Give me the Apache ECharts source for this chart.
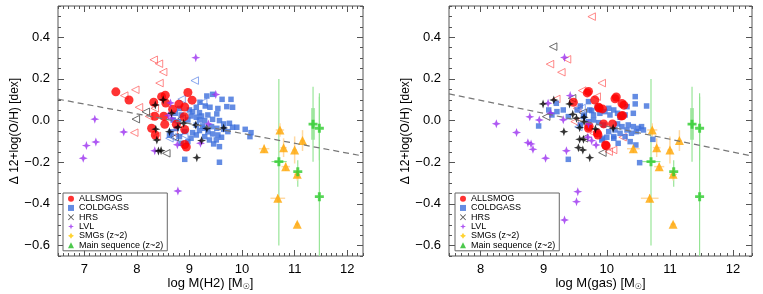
<!DOCTYPE html>
<html>
<head>
<meta charset="utf-8">
<script src="https://cdn.jsdelivr.net/npm/echarts@6/dist/echarts.min.js"></script>
<style>
html,body{margin:0;padding:0;background:#fff;}
#chart{width:763px;height:294px;}
</style>
</head>
<body>
<div id="chart"></div>
<script>
// ---------------- axis settings / tick labels ----------------
const xRangeH2 = [6.5, 12.3];
const xRangeGas = [7.5, 12.3];
const yRange = [-0.65, 0.55];
const xTicksH2 = [7, 8, 9, 10, 11, 12];
const xTicksGas = [8, 9, 10, 11, 12];
const yTicks = [-0.6, -0.4, -0.2, 0, 0.2, 0.4];

// ---------------- left panel: log M(H2) ----------------
const allsmogH2 = [[7.60,0.138],[7.85,0.099],[8.32,0.088],[8.47,0.115],[8.54,0.122],[8.55,0.084],[8.80,0.079],[8.97,0.135],[9.05,0.098],[8.91,0.065],[8.68,0.055],[8.34,0.021],[8.51,0.021],[8.90,0.019],[8.28,-0.037],[8.35,-0.069],[8.53,-0.018],[8.75,-0.018],[8.91,-0.043],[8.91,-0.115],[8.94,-0.127]];
const coldgassH2 = [[9.33,0.118],[9.44,0.126],[9.62,0.102],[9.79,0.102],[9.20,0.088],[9.30,0.070],[9.39,0.064],[9.54,0.058],[9.52,0.032],[9.71,0.067],[9.82,0.064],[9.13,0.064],[9.06,0.042],[9.19,0.038],[9.00,0.051],[8.84,0.027],[8.81,0.058],[8.73,0.035],[8.69,0.003],[8.79,-0.005],[8.97,0.003],[9.03,0.022],[9.13,0.016],[9.23,0.022],[9.35,0.027],[9.29,0.000],[9.44,0.006],[9.57,0.000],[9.65,-0.016],[9.76,-0.013],[9.82,-0.032],[9.73,-0.053],[9.65,-0.042],[9.52,-0.037],[9.42,-0.029],[9.29,-0.037],[9.19,-0.048],[9.13,-0.022],[9.25,-0.026],[9.35,-0.054],[9.44,-0.064],[9.54,-0.069],[9.61,-0.080],[9.51,-0.093],[9.46,-0.112],[9.57,-0.125],[9.38,-0.093],[9.29,-0.077],[9.13,-0.069],[9.03,-0.085],[8.97,-0.101],[8.84,-0.109],[8.91,-0.186],[9.57,-0.200],[10.06,-0.042],[10.17,-0.058],[10.15,-0.077],[9.90,-0.032],[8.75,-0.038],[8.65,-0.054],[8.62,-0.070],[9.19,0.003],[8.91,-0.053],[8.81,-0.077],[9.06,-0.058]];
const hrsH2 = [[8.36,-0.041],[8.38,-0.093],[8.41,-0.146],[8.46,-0.144],[8.50,0.100],[8.35,0.075],[8.62,-0.053],[8.78,-0.032],[8.89,-0.013],[9.12,-0.021],[9.23,-0.096],[9.33,-0.038],[9.14,-0.178],[9.65,-0.035],[8.66,0.035]];
const lvlH2 = [[9.12,0.302],[9.50,0.125],[8.64,0.085],[7.20,0.007],[7.04,-0.120],[7.22,-0.103],[6.98,-0.181],[7.75,-0.055],[8.66,0.010],[9.36,-0.016],[9.21,-0.109],[8.77,-0.116],[8.34,-0.145],[8.78,-0.338],[8.60,0.025]];
const limRedH2 = [[8.32,0.292],[8.42,0.273],[8.50,0.233],[8.43,0.180],[7.97,0.148],[7.76,0.120],[8.04,0.064],[8.34,0.059],[8.23,0.020],[7.95,-0.058],[8.38,-0.074],[8.70,-0.060]];
const limBlackH2 = [[8.17,0.042],[7.98,0.007],[8.56,-0.157],[8.72,-0.080],[8.85,0.010]];
const limBlueH2 = [[9.10,0.192],[9.26,0.088],[8.62,-0.085],[8.68,-0.080],[8.85,0.103],[8.90,-0.070]];
const fitH2 = [[6.5,0.103],[12.3,-0.170]];

// ---------------- right panel: log M(gas) ----------------
const allsmogGas = [[9.47,0.088],[9.69,0.133],[9.71,0.140],[9.81,0.099],[9.87,0.064],[9.93,0.056],[10.13,0.105],[10.15,0.113],[10.24,0.082],[10.27,0.074],[10.23,0.022],[10.25,0.024],[9.95,-0.016],[10.09,-0.016],[9.71,-0.037],[9.72,-0.028],[9.86,-0.069],[9.85,-0.060],[9.98,-0.117],[9.99,-0.121],[9.88,0.060]];
const coldgassGas = [[8.92,-0.026],[9.08,0.051],[9.20,0.083],[9.13,0.027],[9.31,0.051],[9.39,0.019],[9.53,0.051],[9.58,0.070],[9.64,0.027],[9.71,0.091],[9.73,0.051],[9.79,0.027],[9.85,0.064],[9.89,0.035],[9.97,0.043],[10.03,0.059],[10.05,0.027],[10.11,0.051],[10.17,0.035],[10.21,0.016],[10.29,0.027],[10.32,0.067],[10.45,0.115],[10.45,0.080],[10.42,0.035],[10.63,0.070],[10.34,-0.021],[10.42,-0.029],[10.50,-0.037],[10.55,-0.029],[10.58,-0.045],[10.47,-0.053],[10.39,-0.061],[10.32,-0.045],[10.24,-0.029],[10.17,-0.016],[10.13,-0.045],[10.21,-0.061],[10.29,-0.077],[10.37,-0.101],[10.46,-0.117],[10.11,-0.077],[10.03,-0.053],[9.95,-0.021],[9.87,-0.010],[9.79,0.003],[9.71,-0.005],[9.63,0.019],[9.58,-0.021],[9.84,-0.053],[9.92,-0.093],[10.00,-0.080],[10.18,-0.109],[9.39,-0.186],[10.52,-0.202],[10.73,-0.090],[9.21,0.043],[9.76,0.048],[9.93,-0.085],[10.11,-0.085]];
const hrsGas = [[8.99,0.080],[9.16,0.099],[9.41,0.080],[9.46,0.030],[9.52,0.011],[9.64,0.016],[9.64,-0.005],[9.57,-0.034],[9.32,-0.053],[9.82,-0.040],[9.63,-0.090],[9.57,-0.090],[9.55,-0.130],[9.62,-0.141],[9.73,-0.178],[10.10,-0.037]];
const lvlGas = [[8.25,-0.015],[8.57,-0.057],[8.78,0.018],[8.93,0.003],[9.07,0.083],[9.11,0.035],[9.31,0.004],[8.75,-0.106],[8.80,-0.112],[8.83,-0.138],[9.03,-0.181],[9.36,-0.145],[9.42,0.120],[9.33,0.303],[9.70,-0.080],[9.76,-0.096],[9.83,-0.117],[9.71,-0.016],[9.54,-0.341],[9.52,-0.389],[9.33,-0.477]];
const limRedGas = [[9.76,0.499],[9.37,0.294],[9.10,0.271],[9.28,0.232],[9.92,0.180],[9.61,0.144],[9.84,0.115],[9.20,0.104],[9.49,-0.005],[9.79,-0.061],[10.25,-0.080],[10.10,-0.141],[10.03,-0.149],[9.53,0.059]];
const limBlackGas = [[9.15,0.355],[9.04,0.019],[9.62,0.038],[9.45,0.107],[9.93,-0.154],[9.64,-0.085]];
const limBlueGas = [[9.60,0.060],[9.55,-0.030]];
const fitGas = [[7.5,0.128],[12.3,-0.170]];

// ---------------- high-z samples (same in both panels) ----------------
const smgX = [10.72, 10.42, 10.79, 10.83, 11.00, 11.15, 11.05, 10.68, 11.05];
const smgY = [-0.045, -0.135, -0.130, -0.221, -0.141, -0.096, -0.258, -0.373, -0.497];
const smgXErr = [0.08, 0.10, 0.06, 0.08, 0.04, 0.04, 0.06, 0.14, 0.04];
const smgYErr = [0.032, 0.02, 0.045, 0.02, 0.065, 0.05, 0.03, 0.02, 0.01];
const msX = [10.70, 11.35, 11.47, 11.06, 11.47];
const msY = [-0.197, -0.017, -0.037, -0.245, -0.365];
const msXLo = [10.56, 11.31, 11.45, 11.03, 11.45];
const msXHi = [10.85, 11.39, 11.49, 11.09, 11.49];
const msYLo = [-0.60, -0.197, -0.190, -0.317, -1.0];
const msYHi = [0.20, 0.163, 0.131, -0.190, 0.115];
const msBandX = [11.35];
const msBandLo = [-0.092];
const msBandHi = [0.060];

// ---------------- drawing ----------------
const FONT = 'Liberation Sans, Arial, Helvetica, sans-serif';
const FRAME = '#555';
const star4 = 'path://M0,-10 L2.6,-2.6 L10,0 L2.6,2.6 L0,10 L-2.6,2.6 L-10,0 L-2.6,-2.6 Z';
const star4fat = 'path://M0,-10 L3.8,-3.8 L10,0 L3.8,3.8 L0,10 L-3.8,3.8 L-10,0 L-3.8,-3.8 Z';
const plusThick = 'path://M-3.3,-10 L3.3,-10 L3.3,-3.3 L10,-3.3 L10,3.3 L3.3,3.3 L3.3,10 L-3.3,10 L-3.3,3.3 L-10,3.3 L-10,-3.3 L-3.3,-3.3 Z';
const crossX = 'path://M1,0 L5,4 L9,0 L10,1 L6,5 L10,9 L9,10 L5,6 L1,10 L0,9 L4,5 L0,1 Z';

const grids = [
  {left: 58, top: 6, width: 305, height: 250, show: true, borderColor: FRAME, borderWidth: 1, backgroundColor: 'transparent', outerBoundsMode: 'none', containLabel: false},
  {left: 449, top: 6, width: 303, height: 250, show: true, borderColor: FRAME, borderWidth: 1, backgroundColor: 'transparent', outerBoundsMode: 'none', containLabel: false}
];

function fmtY(v) {
  const s = Math.abs(v).toFixed(1);
  return v < -1e-9 ? '\u2212' + s : s;
}

const xAxes = [], yAxes = [];
function addAxes(g, xr, xt, xname) {
  const base = {type: 'value', gridIndex: g, splitLine: {show: false}, axisLine: {show: false, onZero: false}};
  const tickStyle = {lineStyle: {color: FRAME, width: 1}};
  // bottom minor
  xAxes.push(Object.assign({}, base, {position: 'bottom', min: xr[0], max: xr[1], interval: 0.1,
    axisTick: Object.assign({show: true, inside: true, length: 3}, tickStyle), axisLabel: {show: false}}));
  // bottom major with labels
  xAxes.push(Object.assign({}, base, {position: 'bottom', min: xr[0], max: xr[1],
    axisTick: Object.assign({show: true, inside: true, length: 6, customValues: xt}, tickStyle),
    axisLabel: {show: true, customValues: xt, margin: 7, fontSize: 13, color: '#000', fontFamily: FONT, formatter: v => String(Math.round(v))},
    name: xname, nameLocation: 'middle', nameGap: 20, nameMoveOverlap: false,
    nameTextStyle: {color: '#000', fontFamily: FONT, rich: {
      t: {fontSize: 13, fontFamily: FONT, color: '#000'},
      s: {fontSize: 8, fontFamily: 'DejaVu Sans', color: '#000', padding: [7, 0, 0, 0]}
    }}}));
  // top minor + major (no labels)
  xAxes.push(Object.assign({}, base, {position: 'top', min: xr[0], max: xr[1], interval: 0.1,
    axisTick: Object.assign({show: true, inside: true, length: 3}, tickStyle), axisLabel: {show: false}}));
  xAxes.push(Object.assign({}, base, {position: 'top', min: xr[0], max: xr[1],
    axisTick: Object.assign({show: true, inside: true, length: 6, customValues: xt}, tickStyle), axisLabel: {show: false}}));
  // left minor
  yAxes.push(Object.assign({}, base, {position: 'left', min: yRange[0], max: yRange[1], interval: 0.05,
    axisTick: Object.assign({show: true, inside: true, length: 3}, tickStyle), axisLabel: {show: false}}));
  // left major with labels
  yAxes.push(Object.assign({}, base, {position: 'left', min: yRange[0], max: yRange[1],
    axisTick: Object.assign({show: true, inside: true, length: 6, customValues: yTicks}, tickStyle),
    axisLabel: {show: true, customValues: yTicks, margin: 8, fontSize: 13, color: '#000', fontFamily: FONT, formatter: fmtY},
    name: '\u0394 12+log(O/H) [dex]', nameLocation: 'middle', nameGap: 37, nameRotate: 90, nameMoveOverlap: false,
    nameTextStyle: {fontSize: 12, color: '#000', fontFamily: FONT}}));
  // right minor + major
  yAxes.push(Object.assign({}, base, {position: 'right', min: yRange[0], max: yRange[1], interval: 0.05,
    axisTick: Object.assign({show: true, inside: true, length: 3}, tickStyle), axisLabel: {show: false}}));
  yAxes.push(Object.assign({}, base, {position: 'right', min: yRange[0], max: yRange[1],
    axisTick: Object.assign({show: true, inside: true, length: 6, customValues: yTicks}, tickStyle), axisLabel: {show: false}}));
}
addAxes(0, xRangeH2, xTicksH2, '{t|log M(H2) [M}{s|\u2609}{t|]}');
addAxes(1, xRangeGas, xTicksGas, '{t|log M(gas) [M}{s|\u2609}{t|]}');

function errRows(xs, ys, xlo, xhi, ylo, yhi) {
  return xs.map((x, i) => [x, ys[i], xlo[i], xhi[i], ylo[i], yhi[i]]);
}
const smgErrRows = errRows(smgX, smgY,
  smgX.map((x, i) => x - smgXErr[i]), smgX.map((x, i) => x + smgXErr[i]),
  smgY.map((y, i) => y - smgYErr[i]), smgY.map((y, i) => y + smgYErr[i]));
const msErrRows = errRows(msX, msY, msXLo, msXHi, msYLo, msYHi);
const msBandRows = msBandX.map((x, i) => [x, (msBandLo[i] + msBandHi[i]) / 2, x, x, msBandLo[i], msBandHi[i]]);

function errSeries(name, rows, color, width, xi, yi) {
  return {
    name: name, type: 'custom', xAxisIndex: xi, yAxisIndex: yi, data: rows, clip: true, silent: true, z: 1,
    renderItem: function (params, api) {
      const x = api.value(0), y = api.value(1);
      const c = api.coord([x, y]);
      const a = api.coord([api.value(2), y]), b = api.coord([api.value(3), y]);
      const lo = api.coord([x, api.value(4)]), hi = api.coord([x, api.value(5)]);
      const st = {stroke: color, lineWidth: width, fill: null};
      return {type: 'group', children: [
        {type: 'line', shape: {x1: a[0], y1: c[1], x2: b[0], y2: c[1]}, style: st},
        {type: 'line', shape: {x1: c[0], y1: lo[1], x2: c[0], y2: hi[1]}, style: st}
      ]};
    }
  };
}

function limSeries(name, data, color, xi, yi) {
  return {name: name, type: 'scatter', xAxisIndex: xi, yAxisIndex: yi, data: data, symbol: 'triangle', symbolRotate: 90, symbolSize: 7.5, z: 2,
    itemStyle: {color: 'rgba(255,255,255,0)', borderColor: color, borderWidth: 0.9}};
}

const series = [];
function panel(xi, yi, d) {
  series.push(limSeries('limRed', d.limRed, '#ff5a5a', xi, yi));
  series.push(limSeries('limBlack', d.limBlack, '#333333', xi, yi));
  series.push(limSeries('limBlue', d.limBlue, '#5c84e6', xi, yi));
  series.push(errSeries('msBand', msBandRows, 'rgba(140,225,140,0.7)', 4, xi, yi));
  series.push(errSeries('msErr', msErrRows, '#8fe38f', 1.1, xi, yi));
  series.push(errSeries('smgErr', smgErrRows, '#ffd9a3', 1.5, xi, yi));
  series.push({name: 'COLDGASS', type: 'scatter', xAxisIndex: xi, yAxisIndex: yi, data: d.coldgass, symbol: 'rect', symbolSize: 5.5, z: 3, itemStyle: {color: '#3d6fdc'}});
  series.push({name: 'ALLSMOG', type: 'scatter', xAxisIndex: xi, yAxisIndex: yi, data: d.allsmog, symbol: 'circle', symbolSize: 9, z: 4, itemStyle: {color: '#ff0000'}});
  series.push({name: 'LVL', type: 'scatter', xAxisIndex: xi, yAxisIndex: yi, data: d.lvl, symbol: star4, symbolSize: 9, z: 5, itemStyle: {color: '#9b30f0'}});
  series.push({name: 'HRS', type: 'scatter', xAxisIndex: xi, yAxisIndex: yi, data: d.hrs, symbol: star4, symbolSize: 9, z: 5, itemStyle: {color: '#000000'}});
  series.push({name: 'SMGs (z~2)', type: 'scatter', xAxisIndex: xi, yAxisIndex: yi, data: smgX.map((x, i) => [x, smgY[i]]), symbol: 'triangle', symbolSize: 9, z: 5, itemStyle: {color: '#ffa500'}});
  series.push({name: 'Main sequence (z~2)', type: 'scatter', xAxisIndex: xi, yAxisIndex: yi, data: msX.map((x, i) => [x, msY[i]]), symbol: plusThick, symbolSize: 9, z: 5, itemStyle: {color: '#2ecc2e'}});
  series.push({name: 'fit', type: 'line', xAxisIndex: xi, yAxisIndex: yi, data: d.fit, symbol: 'none', z: 6, silent: true,
    lineStyle: {color: '#777', width: 1.2, type: [6, 4]}});
}
panel(1, 1, {allsmog: allsmogH2, coldgass: coldgassH2, hrs: hrsH2, lvl: lvlH2, limRed: limRedH2, limBlack: limBlackH2, limBlue: limBlueH2, fit: fitH2});
panel(5, 5, {allsmog: allsmogGas, coldgass: coldgassGas, hrs: hrsGas, lvl: lvlGas, limRed: limRedGas, limBlack: limBlackGas, limBlue: limBlueGas, fit: fitGas});

const legendData = [
  {name: 'ALLSMOG', icon: 'circle'},
  {name: 'COLDGASS', icon: 'rect'},
  {name: 'HRS', icon: crossX, itemStyle: {color: '#222'}},
  {name: 'LVL', icon: star4},
  {name: 'SMGs (z~2)', icon: star4fat, itemStyle: {color: '#ffc800'}},
  {name: 'Main sequence (z~2)', icon: 'triangle', itemStyle: {color: '#22bb22'}}
];
function legendAt(left) {
  return {data: legendData, orient: 'vertical', left: left, top: 193, selectedMode: false,
    padding: [1, 4, 1, 5], itemGap: 0, itemWidth: 6, itemHeight: 6,
    backgroundColor: '#fff', borderColor: '#666', borderWidth: 1, borderRadius: 0,
    textStyle: {fontSize: 9, lineHeight: 9.3, color: '#000', fontFamily: FONT}};
}

const chart = echarts.init(document.getElementById('chart'), null, {renderer: 'canvas'});
chart.setOption({
  animation: false,
  backgroundColor: '#fff',
  grid: grids,
  xAxis: xAxes,
  yAxis: yAxes,
  legend: [legendAt(63), legendAt(455)],
  series: series
});
</script>
</body>
</html>
